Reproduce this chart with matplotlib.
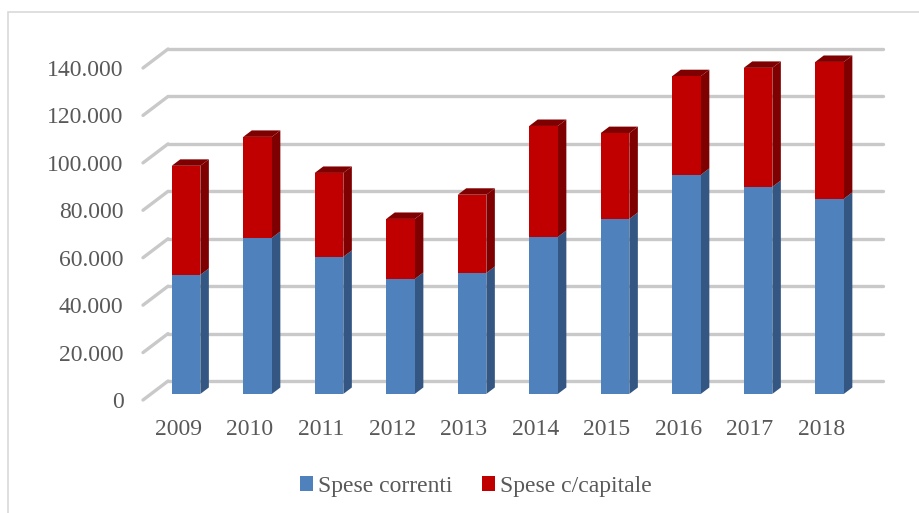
import matplotlib
matplotlib.use("Agg")
import matplotlib.pyplot as plt
from matplotlib.patches import Polygon, Patch, Rectangle

plt.rcParams['font.family'] = ['Liberation Serif', 'DejaVu Serif']

# dati
anni = ['2009', '2010', '2011', '2012', '2013', '2014', '2015', '2016', '2017', '2018']
spese_correnti = [50200, 65800, 57800, 48500, 51000, 66200, 73800, 92400, 87300, 82300]
spese_capitale = [46000, 42600, 35400, 25300, 33000, 46800, 36200, 41600, 50200, 57700]
y_ticks = [0, 20000, 40000, 60000, 80000, 100000, 120000, 140000]

BLU, BLU_SCURO = '#4F81BD', '#335682'
ROSSO, ROSSO_SCURO = '#C00000', '#7F0000'
GRIGIO_TESTO = '#595959'
GRIGIO_GRIGLIA = '#C9C9C9'

# profondita' finta 3D (unita' dati)
DX, DY = 0.35, 8000
F1, F2 = 0.32, 0.66
W = 0.40

fig = plt.figure(figsize=(9.2, 5.13), dpi=100)
fig.patches.append(Rectangle((8 / 920, -0.1), 1.2, (513 - 12) / 513 + 0.1,
                             transform=fig.transFigure, fill=False,
                             edgecolor='#D9D9D9', linewidth=1.2))

ax = fig.add_axes([143 / 920, (513 - 400) / 513, 715 / 920, 332 / 513])
ax.set_xlim(-0.49, 9.51)
ax.set_ylim(0, 140000)
for s in ax.spines.values():
    s.set_visible(False)

# griglia sul fondo + raccordi obliqui
x0, x1 = -0.49, 9.51
for v in y_ticks:
    ax.plot([x0, x0 + DX], [v, v + DY], color=GRIGIO_GRIGLIA, lw=2.4,
            solid_capstyle='round', clip_on=False, zorder=1)
    ax.plot([x0 + DX, x1 + DX], [v + DY, v + DY], color=GRIGIO_GRIGLIA, lw=2.4,
            solid_capstyle='round', clip_on=False, zorder=1)


def box(x, y0, y1, dark, top=False):
    xl, xr = x - W / 2, x + W / 2
    side = [(xr + F1 * DX, y0 + F1 * DY), (xr + F2 * DX, y0 + F2 * DY),
            (xr + F2 * DX, y1 + F2 * DY), (xr + F1 * DX, y1 + F1 * DY)]
    ax.add_patch(Polygon(side, closed=True, facecolor=dark, edgecolor='none',
                         clip_on=False, zorder=2))
    if top:
        tp = [(xl + F1 * DX, y1 + F1 * DY), (xr + F1 * DX, y1 + F1 * DY),
              (xr + F2 * DX, y1 + F2 * DY), (xl + F2 * DX, y1 + F2 * DY)]
        ax.add_patch(Polygon(tp, closed=True, facecolor=dark, edgecolor='none',
                             clip_on=False, zorder=2))


pos = list(range(len(anni)))
tot = [a + b for a, b in zip(spese_correnti, spese_capitale)]
for i in pos:
    box(i, 0, spese_correnti[i], BLU_SCURO)
    box(i, spese_correnti[i], tot[i], ROSSO_SCURO, top=True)

xs = [i + F1 * DX for i in pos]
ax.bar(xs, spese_correnti, width=W, bottom=F1 * DY, color=BLU, zorder=3, clip_on=False)
ax.bar(xs, spese_capitale, width=W, bottom=[v + F1 * DY for v in spese_correnti],
       color=ROSSO, zorder=3, clip_on=False)

ax.set_yticks(y_ticks)
ax.set_yticklabels([f"{v:,}".replace(',', '.') for v in y_ticks])
ax.set_xticks(pos)
ax.set_xticklabels(anni)
ax.tick_params(axis='y', length=0, pad=14, labelsize=17, labelcolor=GRIGIO_TESTO)
ax.tick_params(axis='x', length=0, pad=14, labelsize=17, labelcolor=GRIGIO_TESTO)

handles = [Patch(facecolor=BLU, label='Spese correnti'),
           Patch(facecolor=ROSSO, label='Spese c/capitale')]
fig.legend(handles=handles, loc='center', bbox_to_anchor=(0.517, 0.052), ncol=2,
           frameon=False, fontsize=17, labelcolor=GRIGIO_TESTO,
           handlelength=0.55, handleheight=0.55, handletextpad=0.22,
           columnspacing=1.25, borderaxespad=0)

fig.savefig('out.png', dpi=100)
